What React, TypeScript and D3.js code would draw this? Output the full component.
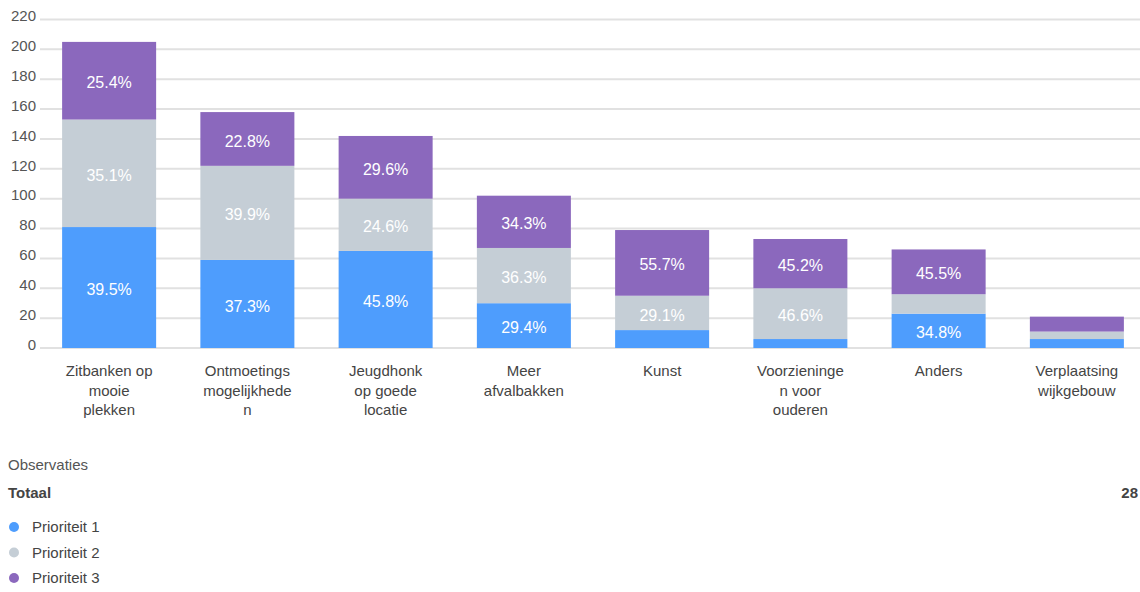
import React, { useEffect, useRef } from "react";
import * as d3 from "d3";

// category labels, already broken over lines as in the source
const categories = [
  ["Zitbanken op", "mooie", "plekken"],
  ["Ontmoetings", "mogelijkhede", "n"],
  ["Jeugdhonk", "op goede", "locatie"],
  ["Meer", "afvalbakken"],
  ["Kunst"],
  ["Voorzieninge", "n voor", "ouderen"],
  ["Anders"],
  ["Verplaatsing", "wijkgebouw"],
];
const prioriteit1 = [81, 59, 65, 30, 12, 6, 23, 6];
const prioriteit2 = [72, 63, 35, 37, 23, 34, 13, 5];
const prioriteit3 = [52, 36, 42, 35, 44, 33, 30, 10];
const seriesNames = ["Prioriteit 1", "Prioriteit 2", "Prioriteit 3"];
const colors = ["#4e9dfd", "#c5ced6", "#8b68bd"];
const yTicks = [0, 20, 40, 60, 80, 100, 120, 140, 160, 180, 200, 220];
const totaal = 28;

export default function App() {
  const ref = useRef<SVGSVGElement>(null);
  useEffect(() => {
    const node = ref.current; if (!node) return;
    const svg = d3.select(node);
    svg.selectAll("*").remove();
    const W = 1140, font = "'Liberation Sans', Arial, sans-serif";
    const m = { l: 40, r: 1146, t: 19.5, b: 348 };

    const rows = categories.map((c, i) => ({ key: String(i), p1: prioriteit1[i], p2: prioriteit2[i], p3: prioriteit3[i] }));
    const keys = ["p1", "p2", "p3"];
    const stacked = d3.stack<any>().keys(keys)(rows);

    const x = d3.scaleBand().domain(rows.map((r) => r.key)).range([m.l, m.r]).paddingInner(0.32).paddingOuter(0.16);
    const y = d3.scaleLinear().domain([0, 220]).range([m.b, m.t]);

    const g = svg.append("g").attr("font-family", font);

    // gridlines + y labels
    g.append("g").selectAll("line").data(yTicks).join("line")
      .attr("x1", m.l).attr("x2", W).attr("y1", (d) => y(d)).attr("y2", (d) => y(d))
      .attr("stroke", "#e1e1e1").attr("stroke-width", 2);
    g.append("g").selectAll("text").data(yTicks).join("text")
      .attr("x", 36).attr("y", (d) => y(d) - 3).attr("dy", "0.32em")
      .attr("text-anchor", "end").attr("font-size", 15).attr("fill", "#555").text((d) => d);

    // bars
    stacked.forEach((s, si) => {
      const grp = g.append("g");
      grp.selectAll("rect").data(s).join("rect")
        .attr("x", (d: any) => x(d.data.key)!).attr("width", x.bandwidth())
        .attr("y", (d: any) => y(d[1])).attr("height", (d: any) => y(d[0]) - y(d[1]))
        .attr("fill", colors[si]);
      grp.selectAll("text").data(s.filter((d: any) => y(d[0]) - y(d[1]) > 25)).join("text")
        .attr("x", (d: any) => x(d.data.key)! + x.bandwidth() / 2)
        .attr("y", (d: any) => (y(d[0]) + y(d[1])) / 2 + 2).attr("dy", "0.35em")
        .attr("text-anchor", "middle").attr("font-size", 16).attr("fill", "#fff")
        .text((d: any) => {
          const r = d.data; const tot = r.p1 + r.p2 + r.p3;
          return ((d[1] - d[0]) / tot * 100).toFixed(1) + "%";
        });
    });

    // category labels
    const cl = g.append("g");
    categories.forEach((lines, i) => {
      const t = cl.append("text").attr("text-anchor", "middle").attr("font-size", 15).attr("fill", "#444")
        .attr("x", x(String(i))! + x.bandwidth() / 2).attr("y", 376);
      lines.forEach((ln, j) => t.append("tspan").attr("x", x(String(i))! + x.bandwidth() / 2).attr("dy", j === 0 ? 0 : 19.5).text(ln));
    });

    // legend block
    g.append("text").attr("x", 8).attr("y", 470).attr("font-size", 15).attr("fill", "#555").text("Observaties");
    g.append("text").attr("x", 8).attr("y", 498).attr("font-size", 15).attr("font-weight", "bold").attr("fill", "#444").text("Totaal");
    g.append("text").attr("x", 1138).attr("y", 498).attr("text-anchor", "end").attr("font-size", 15).attr("font-weight", "bold").attr("fill", "#444").text(totaal);
    const lg = g.append("g").selectAll("g").data(seriesNames).join("g")
      .attr("transform", (_d, i) => `translate(0,${527 + i * 25.5})`);
    lg.append("circle").attr("cx", 14).attr("cy", 0).attr("r", 5).attr("fill", (_d, i) => colors[i]);
    lg.append("text").attr("x", 32).attr("dy", "0.35em").attr("font-size", 15).attr("fill", "#444").text((d) => d);
  }, []);
  return <svg ref={ref} width={1140} height={592} style={{ position: "absolute", left: 0, top: 0, background: "#fff" }} />;
}
